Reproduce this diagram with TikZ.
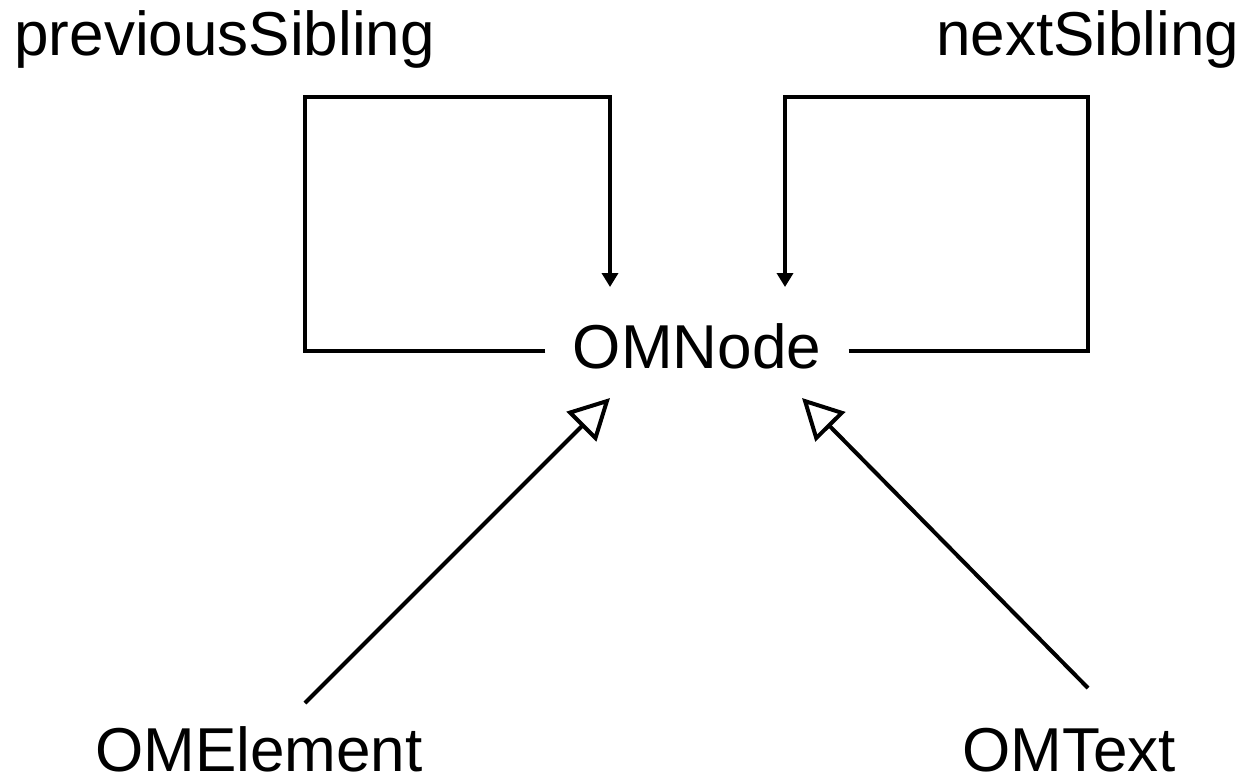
\documentclass[tikz,border=0pt]{standalone}
\usepackage{fontspec}
\setmainfont{Liberation Sans}
\usetikzlibrary{arrows.meta}
\begin{document}
\begin{tikzpicture}[x=0.4pt,y=-0.4pt,
  lbl/.style={inner sep=0pt, font=\fontsize{24.8pt}{30pt}\selectfont},
  wire/.style={line width=1.6pt, line join=miter},
  ref/.style={wire, -{Triangle[length=5.6pt,width=6.4pt]}},
  inherits/.style={wire, -{Triangle[open,length=16.2pt,width=16.6pt]}}]
\useasboundingbox (0,0) rectangle (1250,782);
% nodes
\node[lbl, anchor=base west] (prev) at (14,55) {previousSibling};
\node[lbl, anchor=base east] (next) at (1240,55) {nextSibling};
\node[lbl, anchor=base, inner xsep=10.8pt, inner ysep=15pt,
      text height=17.8pt, text depth=4pt] (omnode) at (697,368) {OMNode};
\node[lbl, anchor=base] (omel) at (259,771) {OMElement};
\node[lbl, anchor=base] (omtext) at (1069,771) {OMText};
% connector end points
\coordinate (pcorner) at (305,97);
\coordinate (ptip) at (610,287);
\coordinate (ncorner) at (1088,97);
\coordinate (ntip) at (785,287);
\coordinate (elstart) at (305,703);
\coordinate (eltip) at (610,398);
\coordinate (txstart) at (1088,688);
\coordinate (txtip) at (802,398);
% previousSibling loop
\draw[ref] (omnode.west) -| (pcorner) -| (ptip);
% nextSibling loop
\draw[ref] (omnode.east) -| (ncorner) -| (ntip);
% inheritance
\draw[inherits] (elstart) -- (eltip);
\draw[inherits] (txstart) -- (txtip);
\end{tikzpicture}
\end{document}
